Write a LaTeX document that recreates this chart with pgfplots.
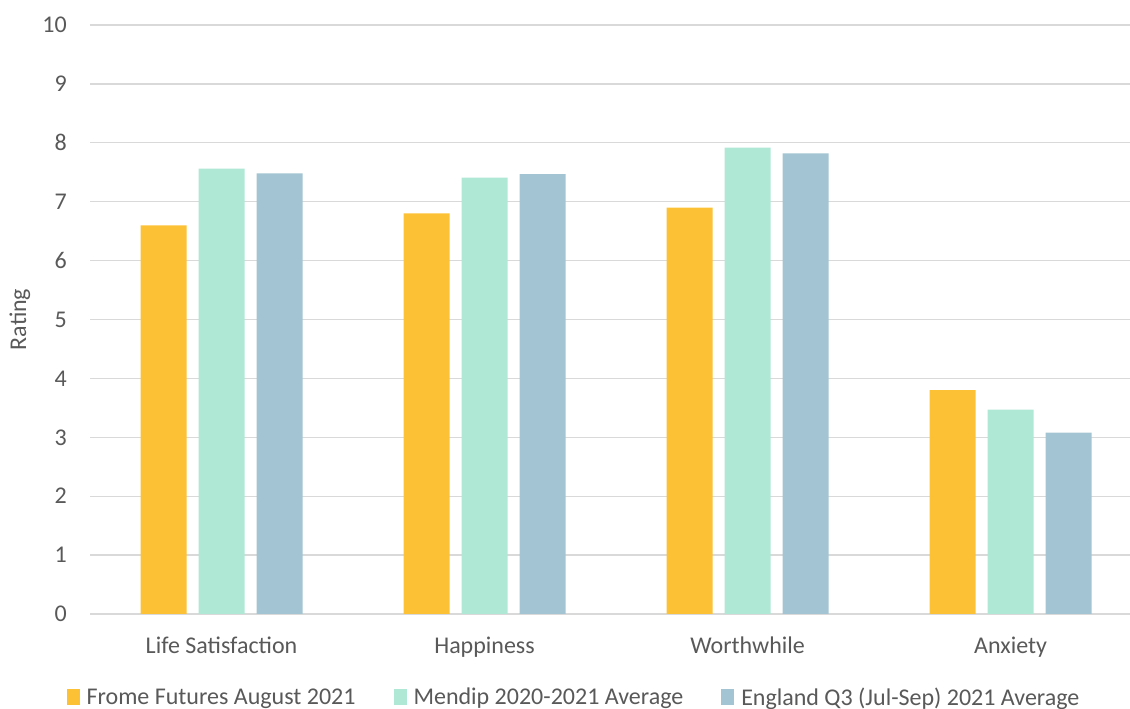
\documentclass[border=0pt]{standalone}
\usepackage{pgfplots}
\pgfplotsset{compat=1.18}
\usepackage{fontspec}
\setmainfont{Carlito}

\definecolor{frome}{HTML}{FDC135}
\definecolor{mendip}{HTML}{AFE8D5}
\definecolor{england}{HTML}{A3C5D3}
\definecolor{txt}{HTML}{595959}
\definecolor{gridc}{HTML}{D9D9D9}

\begin{document}
\begin{tikzpicture}
\useasboundingbox (-90pt,-95pt) rectangle (1040pt,614pt);
\begin{axis}[
  at={(0,0)}, anchor=south west, scale only axis,
  width=1040pt, height=589pt,
  ybar=12pt, bar width=46pt,
  xmin=-0.5, xmax=3.454, ymin=0, ymax=10,
  ytick={0,...,10},
  xtick={0,1,2,3},
  xticklabels={Life Satisfaction, Happiness, Worthwhile, Anxiety},
  axis line style={draw=none},
  major tick length=0pt,
  ymajorgrids,
  major grid style={gridc, line width=1.3pt},
  /pgf/number format/assume math mode=true,
  tick label style={font=\fontsize{24}{28}\selectfont, text=txt},
  yticklabel style={anchor=east, inner sep=0pt, xshift=-23pt},
  xticklabel style={anchor=base, inner sep=0pt, yshift=-40pt},
  ylabel={Rating},
  ylabel style={font=\fontsize{24}{28}\selectfont, text=txt,
    at={(axis description cs:0,0.5)}, anchor=center, yshift=70pt},
  legend columns=3,
  legend style={at={(rel axis cs:0.4654,-0.1409)}, anchor=center, draw=none,
    font=\fontsize{24}{28}\selectfont, text=txt,
    /tikz/every odd column/.append style={column sep=5pt},
    /tikz/every even column/.append style={column sep=36pt}},
  legend image code/.code={\fill[#1] (-2pt,-8pt) rectangle (11pt,8pt);},
]
\addplot[fill=frome, draw=none] coordinates {(0,6.6) (1,6.8) (2,6.9) (3,3.8)};
\addplot[fill=mendip, draw=none] coordinates {(0,7.56) (1,7.41) (2,7.92) (3,3.47)};
\addplot[fill=england, draw=none] coordinates {(0,7.48) (1,7.47) (2,7.82) (3,3.08)};
\legend{Frome Futures August 2021, Mendip 2020-2021 Average, England Q3 (Jul-Sep) 2021 Average}
\end{axis}
\end{tikzpicture}
\end{document}
